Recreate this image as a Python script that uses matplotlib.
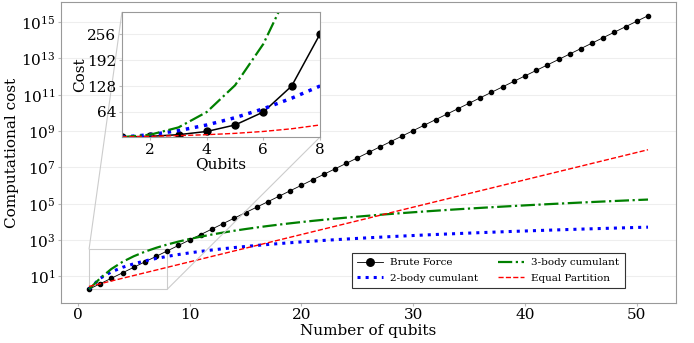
import matplotlib
matplotlib.use("Agg")
import matplotlib.pyplot as plt
from mpl_toolkits.axes_grid1.inset_locator import mark_inset

plt.rcParams['font.family'] = ['DejaVu Serif']
plt.rcParams['mathtext.fontset'] = 'dejavuserif'

qubits = list(range(1, 52))
brute_force = [2, 4, 8, 16, 32, 64, 128, 256, 512, 1024, 2048, 4096, 8192, 16384,
               32768, 65536, 131072, 262144, 524288, 1048576, 2097152, 4194304,
               8388608, 16777216, 33554432, 67108864, 134217728, 268435456,
               536870912, 1073741824, 2147483648, 4294967296, 8589934592,
               17179869184, 34359738368, 68719476736, 137438953472,
               274877906944, 549755813888, 1099511627776, 2199023255552,
               4398046511104, 8796093022208, 17592186044416, 35184372088832,
               70368744177664, 140737488355328, 281474976710656,
               562949953421312, 1125899906842624, 2251799813685248]
two_body = [2, 8, 18, 32, 50, 72, 98, 128, 162, 200, 242, 288, 338, 392, 450,
            512, 578, 648, 722, 800, 882, 968, 1058, 1152, 1250, 1352, 1458,
            1568, 1682, 1800, 1922, 2048, 2178, 2312, 2450, 2592, 2738, 2888,
            3042, 3200, 3362, 3528, 3698, 3872, 4050, 4232, 4418, 4608, 4802,
            5000, 5202]
three_body = [2, 8, 26, 64, 130, 232, 378, 576, 834, 1160, 1562, 2048, 2626,
              3304, 4090, 4992, 6018, 7176, 8474, 9920, 11522, 13288, 15226,
              17344, 19650, 22152, 24858, 27776, 30914, 34280, 37882, 41728,
              45826, 50184, 54810, 59712, 64898, 70376, 76154, 82240, 88642,
              95368, 102426, 109824, 117570, 125672, 134138, 142976, 152194,
              161800, 171802]
equal_partition = [2.83, 4, 5.66, 8, 11.3, 16, 22.6, 32, 45.3, 64, 90.5, 128,
                   181, 256, 362, 512, 724, 1024, 1448, 2048, 2896, 4096, 5793,
                   8192, 11585, 16384, 23170, 32768, 46341, 65536, 92682,
                   131072, 185364, 262144, 370728, 524288, 741455, 1048576,
                   1482910, 2097152, 2965821, 4194304, 5931642, 8388608,
                   11863283, 16777216, 23726566, 33554432, 47453133,
                   67108864, 94906266]

inset_xticks = [2, 4, 6, 8]
inset_yticks = [64, 128, 192, 256]

fig = plt.figure(figsize=(6.94, 3.43), dpi=100)
ax = fig.add_axes([0.088, 0.117, 0.886, 0.877])

def draw(a, ms, lw_bf, lw_blue):
    a.plot(qubits, brute_force, color='black', marker='o', markersize=ms,
           linewidth=lw_bf, label='Brute Force')
    a.plot(qubits, two_body, color='blue', linestyle=':', linewidth=lw_blue,
           label='2-body cumulant')
    a.plot(qubits, three_body, color='green', linestyle='-.', linewidth=1.6,
           label='3-body cumulant')
    a.plot(qubits, equal_partition, color='red', linestyle='--', linewidth=1.0,
           label='Equal Partition')

draw(ax, 3, 0.6, 2.2)
ax.set_yscale('log')
ax.set_xlabel('Number of qubits', fontsize=11, labelpad=1)
ax.set_ylabel('Computational cost', fontsize=11, labelpad=2)
ax.set_yticks([10.0**k for k in range(1, 16, 2)])
ax.minorticks_off()
ax.tick_params(labelsize=11, length=2, color='#bbbbbb', pad=2)
ax.grid(axis='y', color='#eeeeee', linewidth=0.8)
ax.set_axisbelow(True)
for s in ax.spines.values():
    s.set_color('#999999')

leg = ax.legend(loc='lower right', bbox_to_anchor=(0.925, 0.032), ncol=2,
                fontsize=7.5, markerscale=1.8, fancybox=False,
                edgecolor='#333333', framealpha=1, handlelength=2.5,
                handletextpad=0.7, columnspacing=1.9, borderpad=0.5,
                labelspacing=0.6)
leg.get_frame().set_linewidth(0.8)

axins = ax.inset_axes([0.099, 0.551, 0.322, 0.415])
draw(axins, 5, 1.1, 2.5)
axins.set_xlim(1, 8)
axins.set_ylim(2, 310)
axins.set_xticks(inset_xticks)
axins.set_yticks(inset_yticks)
axins.set_xlabel('Qubits', fontsize=11, labelpad=0)
axins.set_ylabel('Cost', fontsize=11, labelpad=0)
axins.tick_params(labelsize=11, length=2, color='#bbbbbb', pad=2)
axins.grid(axis='y', color='#eeeeee', linewidth=0.8)
for s in axins.spines.values():
    s.set_color('#999999')

mark_inset(ax, axins, loc1=2, loc2=4, fc='none', ec='#cccccc', lw=0.8)

fig.savefig('out.png', dpi=100)
